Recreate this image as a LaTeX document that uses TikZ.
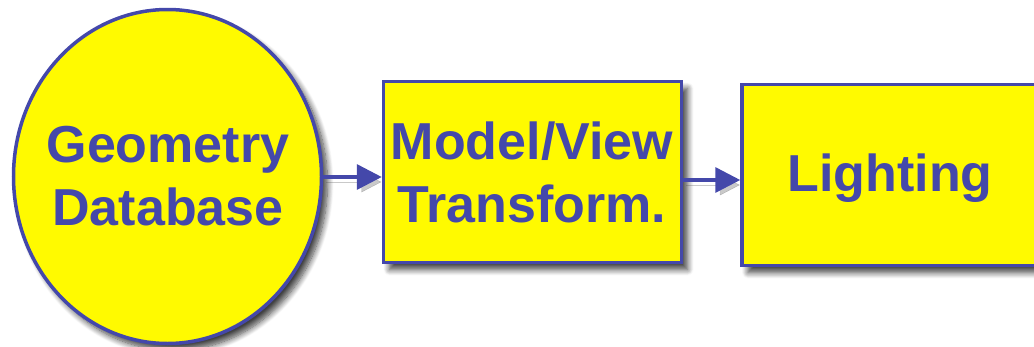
\documentclass[tikz,border=0pt]{standalone}
\usepackage{fontspec}
\setmainfont{Liberation Sans}
\usetikzlibrary{shapes.geometric,shadows.blur,arrows.meta}
\definecolor{pblue}{RGB}{68,72,170}
\definecolor{pyellow}{RGB}{255,250,0}
\tikzset{
  shade/.style={blur shadow={shadow xshift=6pt,shadow yshift=-7pt,shadow opacity=75,shadow blur radius=6pt,shadow blur steps=10}},
  stage/.style={draw=pblue,line width=3.5pt,fill=pyellow,shade,inner sep=0pt},
  lbl/.style={text=pblue,font=\fontsize{52}{63}\selectfont\bfseries,align=center,inner sep=0pt},
  flow/.style={draw=pblue,line width=3.5pt,-{Triangle[length=25pt,width=25pt]},
    preaction={draw=black!70,opacity=0.3,transform canvas={shift={(3pt,-5pt)}}}}
}
\begin{document}
\begin{tikzpicture}[x=1pt,y=-1pt]
\useasboundingbox (0,0) rectangle (1034,346);
\begin{scope}
\clip (0,0) rectangle (1034,346);
\node[stage,ellipse,minimum width=308pt,minimum height=334pt] (geo) at (167.5,176.5) {};
\node[lbl] (geot) at (168,176) {Geometry\\Database};
\node[stage,rectangle,minimum width=298pt,minimum height=181pt] (mv) at (532.5,172) {};
\node[lbl] (mvt) at (532,172) {Model/View\\Transform.};
\node[stage,rectangle,minimum width=300pt,minimum height=181pt] (lt) at (892,175) {};
\node[lbl] (ltt) at (890,178.5) {Lighting};
\draw[flow] (geo.east |- 0,177) -- (mv.west |- 0,177);
\draw[flow] (mv.east |- 0,180) -- (lt.west |- 0,180);
\end{scope}
\end{tikzpicture}
\end{document}
